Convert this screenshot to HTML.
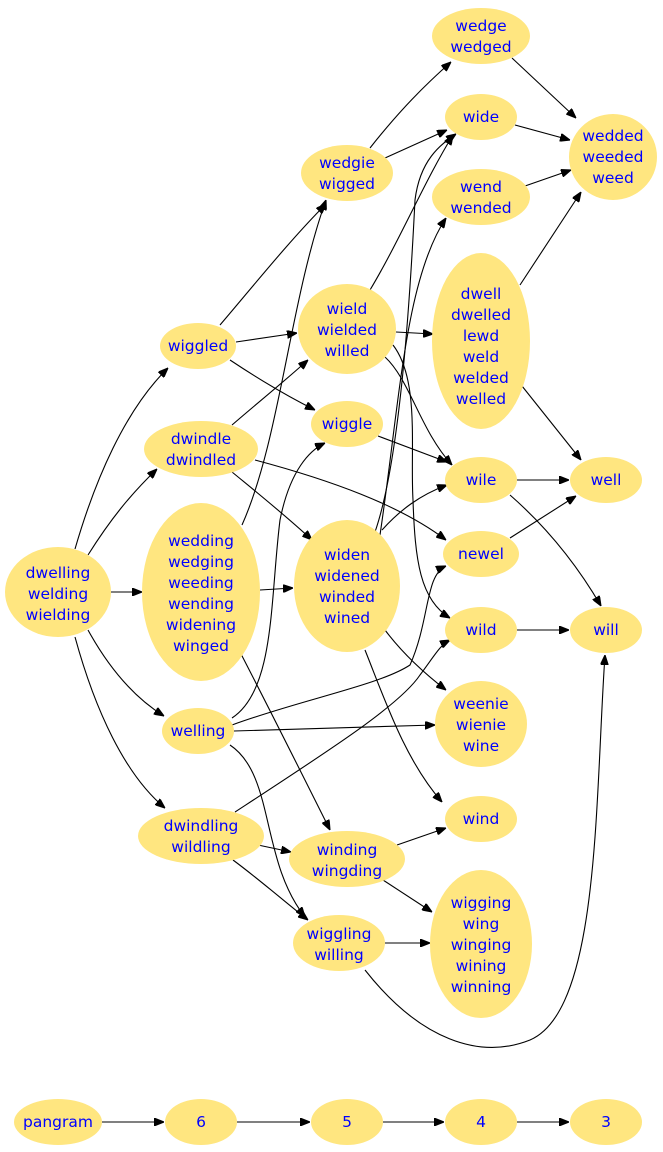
<!DOCTYPE html>
<html><head><meta charset="utf-8"><style>
html,body{margin:0;padding:0;background:#fff;}
svg{display:block}
text{font-family:"DejaVu Sans","Liberation Sans",sans-serif;font-size:15.5px;fill:#0000ff;text-anchor:middle}
ellipse{fill:#ffe680;stroke:none}
path{fill:none;stroke:#000;stroke-width:1.1}
</style></head><body>
<svg width="663" height="1152" viewBox="0 0 663 1152" xmlns="http://www.w3.org/2000/svg">
<defs><marker id="a" markerWidth="10" markerHeight="8" refX="10" refY="4" orient="auto" markerUnits="userSpaceOnUse"><path d="M0,0 L10,4 L0,8 z" style="fill:#000;stroke:#000"/></marker></defs>
<g marker-end="url(#a)">
<path d="M75,549 C95,480 125,410 168,368"/>
<path d="M88,555 C110,520 130,495 157,469"/>
<path d="M111,592 L142,592"/>
<path d="M88,630 C110,670 135,698 164,716"/>
<path d="M75,637 C95,710 125,775 165,808"/>
<path d="M220,325 C250,290 290,240 326,204"/>
<path d="M236,342 L297,333"/>
<path d="M230,360 C260,380 285,395 315,410"/>
<path d="M232,425 C255,405 280,385 308,360"/>
<path d="M232,472 C260,495 285,515 312,540"/>
<path d="M255,460 C330,480 400,505 446,540"/>
<path d="M242,525 C280,440 290,300 326,200"/>
<path d="M260,590 L293,588"/>
<path d="M240,652 C270,710 300,770 330,830"/>
<path d="M232,718 C275,690 270,600 280,520 C290,470 310,450 325,443"/>
<path d="M232,725 C300,700 380,685 410,665 C430,620 425,575 446,566"/>
<path d="M234,731 L435,725"/>
<path d="M230,745 C275,775 260,860 305,917"/>
<path d="M235,812 C330,750 400,705 420,675 C435,655 440,645 450,640"/>
<path d="M258,845 L291,852"/>
<path d="M233,860 C260,880 285,902 308,920"/>
<path d="M370,148 C400,110 425,85 451,62"/>
<path d="M385,158 L447,130"/>
<path d="M370,290 C400,240 425,180 453,135"/>
<path d="M396,332 L433,334"/>
<path d="M385,357 C410,380 420,430 452,465"/>
<path d="M393,345 C420,380 410,450 413,500 C415,560 420,600 450,618"/>
<path d="M378,436 L447,462"/>
<path d="M375,532 C400,460 410,300 415,200 C420,160 440,145 456,134"/>
<path d="M380,535 C400,400 405,280 446,218"/>
<path d="M382,530 C400,510 420,495 447,485"/>
<path d="M385,630 C400,650 420,670 446,690"/>
<path d="M365,650 C385,700 405,760 442,802"/>
<path d="M397,845 L446,828"/>
<path d="M383,880 L432,912"/>
<path d="M385,943 L430,943"/>
<path d="M365,970 C420,1040 480,1060 530,1040 C600,1010 595,800 605,655"/>
<path d="M512,58 L576,118"/>
<path d="M515,125 L570,140"/>
<path d="M525,186 L571,170"/>
<path d="M520,285 L581,192"/>
<path d="M522,386 L581,460"/>
<path d="M517,480 L569,480"/>
<path d="M510,495 C550,530 580,570 601,606"/>
<path d="M510,538 L576,496"/>
<path d="M517,630 L569,630"/>
<path d="M102,1122 L164,1122"/>
<path d="M237,1122 L310,1122"/>
<path d="M383,1122 L444,1122"/>
<path d="M517,1122 L569,1122"/>
</g>
<ellipse cx="481" cy="36" rx="49" ry="28"/><text x="481" y="31">wedge</text><text x="481" y="52">wedged</text>
<ellipse cx="481" cy="117" rx="36" ry="23"/><text x="481" y="122">wide</text>
<ellipse cx="613" cy="157" rx="44" ry="43"/><text x="613" y="141">wedded</text><text x="613" y="162">weeded</text><text x="613" y="183">weed</text>
<ellipse cx="481" cy="197" rx="49" ry="28"/><text x="481" y="192">wend</text><text x="481" y="213">wended</text>
<ellipse cx="347" cy="173" rx="46" ry="28"/><text x="347" y="168">wedgie</text><text x="347" y="189">wigged</text>
<ellipse cx="481" cy="341" rx="49" ry="88"/><text x="481" y="299">dwell</text><text x="481" y="320">dwelled</text><text x="481" y="341">lewd</text><text x="481" y="362">weld</text><text x="481" y="383">welded</text><text x="481" y="404">welled</text>
<ellipse cx="347" cy="329" rx="49" ry="45"/><text x="347" y="314">wield</text><text x="347" y="335">wielded</text><text x="347" y="356">willed</text>
<ellipse cx="198" cy="346" rx="38" ry="23"/><text x="198" y="351">wiggled</text>
<ellipse cx="201" cy="449" rx="57" ry="28"/><text x="201" y="444">dwindle</text><text x="201" y="465">dwindled</text>
<ellipse cx="347" cy="424" rx="36" ry="23"/><text x="347" y="429">wiggle</text>
<ellipse cx="481" cy="480" rx="36" ry="23"/><text x="481" y="485">wile</text>
<ellipse cx="606" cy="480" rx="36" ry="23"/><text x="606" y="485">well</text>
<ellipse cx="481" cy="554" rx="38" ry="23"/><text x="481" y="559">newel</text>
<ellipse cx="58" cy="592" rx="53" ry="45"/><text x="58" y="578">dwelling</text><text x="58" y="599">welding</text><text x="58" y="620">wielding</text>
<ellipse cx="201" cy="592" rx="59" ry="89"/><text x="201" y="546">wedding</text><text x="201" y="567">wedging</text><text x="201" y="588">weeding</text><text x="201" y="609">wending</text><text x="201" y="630">widening</text><text x="201" y="651">winged</text>
<ellipse cx="347" cy="586" rx="53" ry="66"/><text x="347" y="560">widen</text><text x="347" y="581">widened</text><text x="347" y="602">winded</text><text x="347" y="623">wined</text>
<ellipse cx="481" cy="630" rx="36" ry="23"/><text x="481" y="635">wild</text>
<ellipse cx="606" cy="630" rx="36" ry="23"/><text x="606" y="635">will</text>
<ellipse cx="198" cy="731" rx="36" ry="23"/><text x="198" y="736">welling</text>
<ellipse cx="481" cy="724" rx="46" ry="43"/><text x="481" y="709">weenie</text><text x="481" y="730">wienie</text><text x="481" y="751">wine</text>
<ellipse cx="481" cy="819" rx="36" ry="23"/><text x="481" y="824">wind</text>
<ellipse cx="201" cy="836" rx="63" ry="28"/><text x="201" y="831">dwindling</text><text x="201" y="852">wildling</text>
<ellipse cx="347" cy="859" rx="58" ry="28"/><text x="347" y="855">winding</text><text x="347" y="876">wingding</text>
<ellipse cx="481" cy="944" rx="51" ry="74"/><text x="481" y="908">wigging</text><text x="481" y="929">wing</text><text x="481" y="950">winging</text><text x="481" y="971">wining</text><text x="481" y="992">winning</text>
<ellipse cx="339" cy="943" rx="46" ry="28"/><text x="339" y="939">wiggling</text><text x="339" y="960">willing</text>
<ellipse cx="58" cy="1122" rx="44" ry="23"/><text x="58" y="1127">pangram</text>
<ellipse cx="201" cy="1122" rx="36" ry="23"/><text x="201" y="1127">6</text>
<ellipse cx="347" cy="1122" rx="36" ry="23"/><text x="347" y="1127">5</text>
<ellipse cx="481" cy="1122" rx="36" ry="23"/><text x="481" y="1127">4</text>
<ellipse cx="606" cy="1122" rx="36" ry="23"/><text x="606" y="1127">3</text>
</svg>
</body></html>
